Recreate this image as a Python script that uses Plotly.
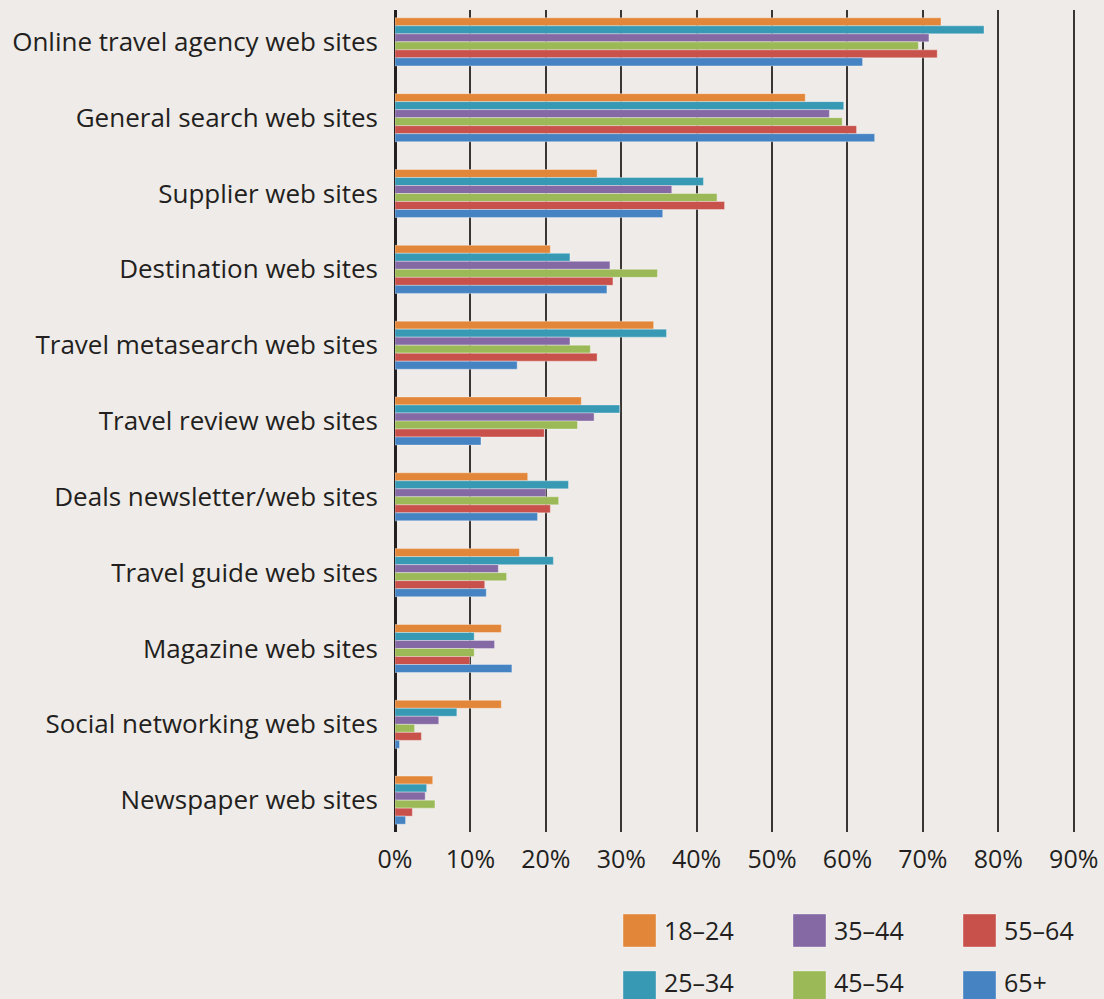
import plotly.graph_objects as go

categories = [
    "Online travel agency web sites",
    "General search web sites",
    "Supplier web sites",
    "Destination web sites",
    "Travel metasearch web sites",
    "Travel review web sites",
    "Deals newsletter/web sites",
    "Travel guide web sites",
    "Magazine web sites",
    "Social networking web sites",
    "Newspaper web sites",
]

age_groups = ["18–24", "25–34", "35–44", "45–54", "55–64", "65+"]

v_18_24 = [72.4, 54.4, 26.8, 20.6, 34.3, 24.7, 17.6, 16.5, 14.1, 14.1, 5.0]
v_25_34 = [78.1, 59.5, 40.9, 23.2, 36.0, 29.8, 23.0, 21.0, 10.5, 8.2, 4.2]
v_35_44 = [70.8, 57.6, 36.7, 28.5, 23.2, 26.4, 20.0, 13.7, 13.2, 5.8, 4.0]
v_45_54 = [69.4, 59.3, 42.7, 34.8, 25.9, 24.2, 21.7, 14.8, 10.5, 2.6, 5.3]
v_55_64 = [71.9, 61.2, 43.7, 28.9, 26.8, 19.8, 20.6, 11.9, 9.9, 3.5, 2.3]
v_65_up = [62.0, 63.6, 35.5, 28.1, 16.2, 11.4, 18.9, 12.1, 15.5, 0.6, 1.4]

series = [v_18_24, v_25_34, v_35_44, v_45_54, v_55_64, v_65_up]
colors = ["#e2873a", "#3799b4", "#8469a4", "#9bba57", "#c8524b", "#4683c2"]

x_ticks = [0, 10, 20, 30, 40, 50, 60, 70, 80, 90]
x_tick_labels = [f"{v}%" for v in x_ticks]

BG = "#efebe8"
TXT = "#231f20"
FONT = "Open Sans"

W, H = 1104, 999
ML, MR, MT, MB = 395, 28, 10, 167
PW, PH = W - ML - MR, H - MT - MB

fig = go.Figure()
for name, vals, col in zip(age_groups, series, colors):
    fig.add_trace(go.Bar(
        y=categories, x=vals, name=name, orientation="h",
        marker=dict(color=col, line=dict(color="rgba(255,255,255,0.35)", width=1)),
        showlegend=False, hoverinfo="skip",
    ))

# manual legend (column-major, 3 columns x 2 rows)
def px_x(p):
    return (p - ML) / PW

def px_y(p):
    return (H - MB - p) / PH

shapes = []
annotations = []
col_x = [623, 793, 963]
row_y = [914, 971]
sq = 33
for i, (name, col) in enumerate(zip(age_groups, colors)):
    c, r = i // 2, i % 2
    x0, y0 = col_x[c], row_y[r]
    shapes.append(dict(type="rect", xref="paper", yref="paper",
                       x0=px_x(x0), x1=px_x(x0 + sq), y0=px_y(y0), y1=px_y(y0 + sq),
                       fillcolor=col, line=dict(color="rgba(255,255,255,0.35)", width=1)))
    ty = y0 + sq / 2 - 1 if r == 0 else y0 + sq / 2 - 5
    annotations.append(dict(xref="paper", yref="paper", x=px_x(x0 + 39), y=px_y(ty),
                            text=name, showarrow=False, xanchor="left", yanchor="middle",
                            font=dict(family=FONT, size=25, color=TXT)))

fig.update_layout(
    width=W, height=H,
    margin=dict(l=ML, r=MR, t=MT, b=MB),
    paper_bgcolor=BG, plot_bgcolor=BG,
    barmode="group", bargap=0.366, bargroupgap=0,
    font=dict(family=FONT, size=26, color=TXT),
    shapes=shapes, annotations=annotations,
    xaxis=dict(
        range=[0, 90.3], tickmode="array", tickvals=x_ticks, ticktext=x_tick_labels,
        showgrid=True, gridcolor="#3a3636", gridwidth=1.5,
        zeroline=True, zerolinecolor=TXT, zerolinewidth=3,
        showline=False, ticks="", ticklabelstandoff=10, automargin=False,
        tickfont=dict(family=FONT, size=25, color=TXT),
    ),
    yaxis=dict(
        categoryorder="array", categoryarray=categories,
        range=[10.42, -0.42], showgrid=False, zeroline=False,
        showline=False, ticks="", ticklabelstandoff=16, automargin=False,
        tickfont=dict(family=FONT, size=26, color=TXT),
    ),
)

fig.write_html(
    "out.html",
    config={"displayModeBar": False},
    post_script="document.body.style.margin='0';document.body.style.background='#efebe8';document.body.style.overflow='hidden';",
)
